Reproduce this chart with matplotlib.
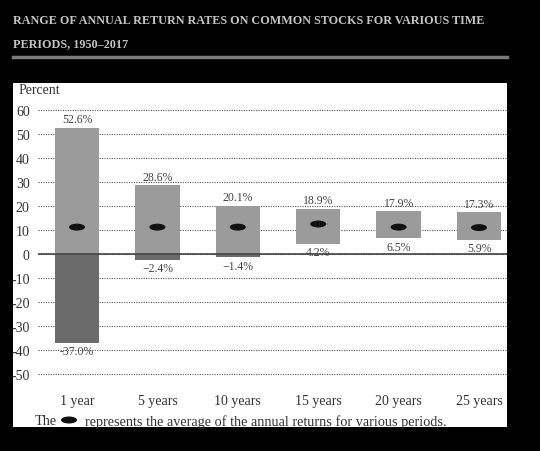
import matplotlib.pyplot as plt
from matplotlib.patches import Ellipse, Rectangle
from matplotlib.lines import Line2D

plt.rcParams['font.family'] = ['Liberation Serif', 'DejaVu Serif']

periods = ["1 year", "5 years", "10 years", "15 years", "20 years", "25 years"]
high = [52.6, 28.6, 20.1, 18.9, 17.9, 17.3]
low = [-37.0, -2.4, -1.4, 4.2, 6.5, 5.9]
average = [11.2, 11.2, 11.2, 12.5, 11.2, 11.0]
high_labels = ["52.6%", "28.6%", "20.1%", "18.9%", "17.9%", "17.3%"]
low_labels = ["-37.0%", "\u22122.4%", "\u22121.4%", "4.2%", "6.5%", "5.9%"]
yticks = [60, 50, 40, 30, 20, 10, 0, -10, -20, -30, -40, -50]

W, H = 540, 452
fig = plt.figure(figsize=(W / 100, H / 100), dpi=100, facecolor='black')

# title + rule (shrink line 1 to span the rule width)
t1 = fig.text(13 / W, 1 - 21 / H, "RANGE OF ANNUAL RETURN RATES ON COMMON STOCKS FOR VARIOUS TIME",
              color='#c4c4c4', fontsize=10, fontweight='bold', va='center', ha='left')
r = fig.canvas.get_renderer()
fs = 10 * 471 / t1.get_window_extent(r).width
t1.set_fontsize(fs)
fig.text(13 / W, 1 - 44 / H, "PERIODS, 1950\u20132017",
         color='#c4c4c4', fontsize=fs, fontweight='bold', va='center', ha='left')
fig.add_artist(Line2D([13 / W, 507 / W], [1 - 58 / H, 1 - 58 / H],
                      color='#7a7a7a', lw=2.5, transform=fig.transFigure))

# white panel
fig.add_artist(Rectangle((13 / W, 1 - 428 / H), 494 / W, 344 / H,
                         facecolor='white', edgecolor='none', transform=fig.transFigure, zorder=0))

# axes: zero at px 255, 2.4 px per unit
ymin, ymax = -55, 65
top_px = 255 - 2.4 * ymax
bot_px = 255 - 2.4 * ymin
ax = fig.add_axes([38 / W, 1 - bot_px / H, 469 / W, (bot_px - top_px) / H])
ax.set_facecolor('none')
ax.set_ylim(ymin, ymax)
step = 80.4
ax.set_xlim(-(77 - 38) / step, -(77 - 38) / step + 469 / step)

x = list(range(len(periods)))
bw = 0.55
pos_bottom = [max(l, 0) for l in low]
pos_height = [h - b for h, b in zip(high, pos_bottom)]
neg_height = [min(l, 0) for l in low]
ax.bar(x, pos_height, bottom=pos_bottom, width=bw, color='#9b9b9b', zorder=2)
ax.bar(x, neg_height, width=bw, color='#6b6b6b', zorder=2)

for xi, m in zip(x, average):
    ax.add_patch(Ellipse((xi, m), 0.2, 2.9, facecolor='#111111', edgecolor='none', zorder=3))

for xi, h, t in zip(x, high, high_labels):
    ax.text(xi, h + 1.0, t, ha='center', va='bottom', fontsize=8.5, color='#444444')
for xi, l, t in zip(x, low, low_labels):
    ax.text(xi, min(l, 0) - 1.0 if l < 0 else l - 1.0, t, ha='center', va='top',
            fontsize=8.5, color='#444444')

ax.axhline(0, color='#444444', lw=1.2, zorder=2.5)
ax.set_yticks(yticks)
ax.set_yticklabels([str(v) if v >= 0 else "-" + str(-v) for v in yticks])
ax.set_xticks(x)
ax.set_xticklabels(periods)
ax.grid(axis='y', linestyle=(0, (1, 1.2)), color='#555555', lw=0.8, zorder=1)
ax.set_axisbelow(True)
ax.tick_params(axis='both', length=0, labelsize=10, colors='#333333')
ax.tick_params(axis='y', pad=6)
ax.tick_params(axis='x', pad=6)
for s in ax.spines.values():
    s.set_visible(False)

fig.text(19 / W, 1 - 90 / H, "Percent", fontsize=10, color='#333333', va='center', ha='left')

# footnote
fig.text(35 / W, 1 - 422 / H, "The", fontsize=10.3, color='#333333', va='center', ha='left')
fig.add_artist(Ellipse((69 / W, 1 - 421 / H), 16 / W, 7 / H, facecolor='#111111',
                       edgecolor='none', transform=fig.transFigure))
fig.text(85 / W, 1 - 422 / H, "represents the average of the annual returns for various periods.",
         fontsize=10.3, color='#333333', va='center', ha='left')

fig.savefig("out.png", dpi=100, facecolor='black')
